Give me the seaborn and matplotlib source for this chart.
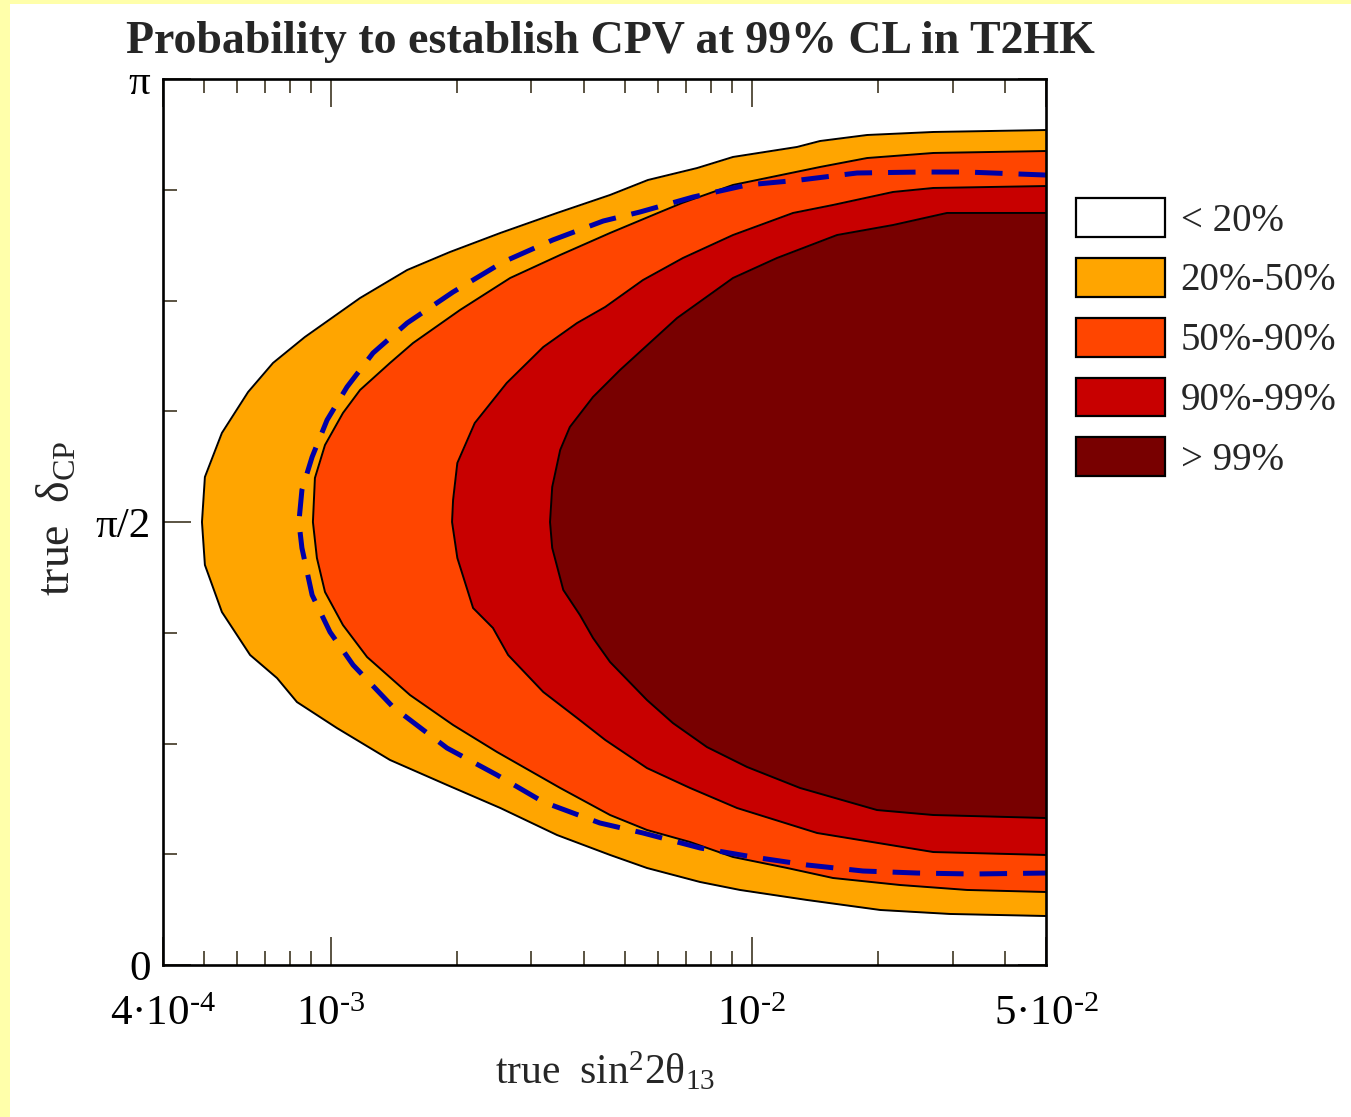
import numpy as np
import matplotlib
matplotlib.use("Agg")
import matplotlib.pyplot as plt
import seaborn as sns
from matplotlib.patches import Patch, Rectangle
from matplotlib.ticker import FixedLocator, LogLocator, NullFormatter

# ---- contour boundaries: true delta_CP (units of pi) vs true sin^2(2 theta_13) ----
# 20% probability boundary
delta_20 = [0.9424, 0.9402, 0.9368, 0.9300, 0.9233, 0.9120, 0.8995, 0.8860, 0.8691, 0.8488,
            0.8262, 0.8047, 0.7844, 0.7528, 0.7088, 0.6795, 0.6467, 0.6005, 0.5508, 0.5000,
            0.4515, 0.3984, 0.3499, 0.3239, 0.2968, 0.2675, 0.2314, 0.2032, 0.1772, 0.1467,
            0.1242, 0.1095, 0.0937, 0.0847, 0.0734, 0.0621, 0.0576, 0.0553]
s2t_20 = [5.00e-2, 2.70e-2, 1.88e-2, 1.453e-2, 1.282e-2, 9.03e-3, 7.42e-3, 5.67e-3, 4.61e-3, 3.45e-3,
          2.53e-3, 1.92e-3, 1.52e-3, 1.175e-3, 8.69e-4, 7.30e-4, 6.37e-4, 5.52e-4, 5.03e-4, 4.95e-4,
          5.03e-4, 5.52e-4, 6.44e-4, 7.46e-4, 8.32e-4, 1.035e-3, 1.384e-3, 1.89e-3, 2.53e-3, 3.45e-3,
          4.61e-3, 5.64e-3, 7.54e-3, 9.38e-3, 1.353e-2, 2.02e-2, 2.96e-2, 5.00e-2]

# 50% probability boundary
delta_50 = [0.9187, 0.9165, 0.9108, 0.9007, 0.8804, 0.8600, 0.8488, 0.8262, 0.8014, 0.7754,
            0.7393, 0.7020, 0.6795, 0.6490, 0.6230, 0.5869, 0.5497, 0.5000, 0.4594, 0.4210,
            0.3837, 0.3476, 0.3047, 0.2709, 0.2404, 0.1998, 0.1693, 0.1524, 0.1388, 0.1219,
            0.1095, 0.0982, 0.0903, 0.0847, 0.0824]
s2t_50 = [5.00e-2, 2.70e-2, 1.88e-2, 1.454e-2, 9.03e-3, 6.83e-3, 5.99e-3, 4.61e-3, 3.51e-3, 2.67e-3,
          2.03e-3, 1.57e-3, 1.384e-3, 1.175e-3, 1.070e-3, 9.70e-4, 9.18e-4, 9.08e-4, 9.28e-4, 9.70e-4,
          1.070e-3, 1.221e-3, 1.544e-3, 1.954e-3, 2.485e-3, 3.51e-3, 4.61e-3, 5.64e-3, 7.14e-3, 9.03e-3,
          1.214e-2, 1.560e-2, 2.251e-2, 3.248e-2, 5.00e-2]

# 90% probability boundary
delta_90 = [0.8792, 0.8770, 0.8725, 0.8578, 0.8488, 0.8239, 0.7980, 0.7731, 0.7427, 0.7246,
            0.6975, 0.6569, 0.6117, 0.5666, 0.5248, 0.5000, 0.4594, 0.4029, 0.3804, 0.3499,
            0.3081, 0.2788, 0.2540, 0.2223, 0.1998, 0.1772, 0.1490, 0.1275, 0.1242]
s2t_90 = [5.00e-2, 2.70e-2, 2.167e-2, 1.560e-2, 1.254e-2, 9.03e-3, 6.87e-3, 5.52e-3, 4.49e-3, 3.85e-3,
          3.20e-3, 2.62e-3, 2.20e-3, 2.00e-3, 1.954e-3, 1.943e-3, 2.00e-3, 2.18e-3, 2.43e-3, 2.64e-3,
          3.20e-3, 3.85e-3, 4.49e-3, 5.64e-3, 7.14e-3, 9.23e-3, 1.430e-2, 2.70e-2, 5.00e-2]

# 99% probability boundary
delta_99 = [0.8488, 0.8488, 0.8352, 0.8239, 0.7980, 0.7754, 0.7302, 0.6716, 0.6411, 0.6072,
            0.5813, 0.5395, 0.5000, 0.4707, 0.4233, 0.3950, 0.3691, 0.3420, 0.2991, 0.2731,
            0.2460, 0.2235, 0.1998, 0.1749, 0.1693, 0.1659]
s2t_99 = [5.00e-2, 2.91e-2, 2.167e-2, 1.595e-2, 1.149e-2, 9.03e-3, 6.65e-3, 4.87e-3, 4.20e-3, 3.70e-3,
          3.51e-3, 3.36e-3, 3.32e-3, 3.36e-3, 3.57e-3, 3.91e-3, 4.20e-3, 4.61e-3, 5.64e-3, 6.50e-3,
          7.83e-3, 9.75e-3, 1.303e-2, 1.985e-2, 2.70e-2, 5.00e-2]

# 99% CL CP-violation reach (dashed)
delta_cl = [0.8916, 0.8950, 0.8950, 0.8939, 0.8860, 0.8804, 0.8668, 0.8499, 0.8397, 0.8183,
            0.7935, 0.7596, 0.7246, 0.6907, 0.6524, 0.6151, 0.5734, 0.5361, 0.5000, 0.4707,
            0.4176, 0.3758, 0.3386, 0.2912, 0.2449, 0.2144, 0.1840, 0.1603, 0.1490, 0.1321,
            0.1219, 0.1129, 0.1061, 0.1038, 0.1027, 0.1038]
s2t_cl = [5.00e-2, 3.248e-2, 2.512e-2, 1.779e-2, 1.303e-2, 9.75e-3, 7.26e-3, 5.43e-3, 4.44e-3, 3.37e-3,
          2.57e-3, 1.954e-3, 1.52e-3, 1.261e-3, 1.094e-3, 9.81e-4, 9.04e-4, 8.55e-4, 8.41e-4, 8.55e-4,
          9.04e-4, 9.97e-4, 1.131e-3, 1.407e-3, 1.89e-3, 2.485e-3, 3.20e-3, 4.36e-3, 5.52e-3, 7.54e-3,
          1.007e-2, 1.353e-2, 1.838e-2, 2.470e-2, 3.356e-2, 5.00e-2]

legend_labels = ["< 20%", "20%-50%", "50%-90%", "90%-99%", "> 99%"]
band_colors = ["#ffffff", "#ffa500", "#ff4500", "#c80000", "#780000"]
x_ticks = [4e-4, 1e-3, 1e-2, 5e-2]
x_ticklabels = [r"$\mathregular{4·10^{‐4}}$", r"$\mathregular{10^{‐3}}$",
                r"$\mathregular{10^{‐2}}$", r"$\mathregular{5·10^{‐2}}$"]
y_ticklabels = ["0", "π/2", "π"]

X_MIN, X_MAX = 4e-4, 5e-2

sns.set_style("ticks")
plt.rcParams["font.family"] = ["Liberation Serif", "DejaVu Serif"]
plt.rcParams["mathtext.fontset"] = "custom"
plt.rcParams["mathtext.rm"] = "Liberation Serif"
plt.rcParams["mathtext.it"] = "Liberation Serif:italic"
plt.rcParams["mathtext.bf"] = "Liberation Serif:bold"

W, H = 1351, 1117
fig = plt.figure(figsize=(W / 100, H / 100), dpi=100)
fig.patch.set_facecolor("white")
# pale yellow page border
fig.patches.append(Rectangle((0, 0), 10 / W, 1, transform=fig.transFigure,
                             facecolor="#ffffaa", edgecolor="none", zorder=0))
fig.patches.append(Rectangle((0, 1 - 4 / H), 1, 4 / H, transform=fig.transFigure,
                             facecolor="#ffffaa", edgecolor="none", zorder=0))

ax = fig.add_axes([163 / W, 152 / H, 883 / W, 886 / H])
ax.set_facecolor("white")
ax.set_xscale("log")

bands = [(delta_20, s2t_20, band_colors[1]),
         (delta_50, s2t_50, band_colors[2]),
         (delta_90, s2t_90, band_colors[3]),
         (delta_99, s2t_99, band_colors[4])]
for dlt, s2t, col in bands:
    y = np.asarray(dlt) * np.pi
    ax.fill_betweenx(y, s2t, X_MAX, color=col, lw=0, zorder=1)
for dlt, s2t, col in bands:
    y = np.asarray(dlt) * np.pi
    sns.lineplot(x=s2t, y=y, sort=False, estimator=None, color="black",
                 lw=1.4, ax=ax, zorder=2)

sns.lineplot(x=s2t_cl, y=np.asarray(delta_cl) * np.pi, sort=False, estimator=None,
             color="#0000a8", lw=3.6, ax=ax, zorder=3)
ax.lines[-1].set_dashes([5.5, 3.2])
ax.lines[-1].set_dash_capstyle("butt")

ax.set_xlim(X_MIN, X_MAX)
ax.set_ylim(0, np.pi)

ax.xaxis.set_major_locator(FixedLocator(x_ticks))
ax.set_xticklabels(x_ticklabels)
ax.xaxis.set_minor_locator(LogLocator(base=10, subs=np.arange(2, 10), numticks=20))
ax.xaxis.set_minor_formatter(NullFormatter())
ax.yaxis.set_major_locator(FixedLocator([0, np.pi / 2, np.pi]))
ax.set_yticklabels(y_ticklabels)
ax.yaxis.set_minor_locator(FixedLocator([k * np.pi / 8 for k in range(9)]))

tick_col = "#2e2410"
ax.tick_params(which="both", direction="in", top=True, right=True,
               color=tick_col, width=1.1, labelsize=31, labelcolor="black")
ax.tick_params(which="major", length=20)
ax.tick_params(which="minor", length=10)
ax.tick_params(axis="x", which="major", pad=22)
ax.tick_params(axis="y", which="major", pad=9)

for sp in ax.spines.values():
    sp.set_linewidth(1.9)
    sp.set_color("black")
    sp.set_zorder(5)

ax.set_xlabel("")
ax.set_ylabel("")

fig.text(610 / W, 1 - 42 / H, "Probability to establish CPV at 99% CL in T2HK",
         ha="center", va="center", fontsize=33, fontweight="bold")
fig.text(605 / W, 1 - 1072 / H, r"$\mathregular{true\ \ sin^{2}2θ_{13}}$",
         ha="center", va="center", fontsize=30)
fig.text(58 / W, 1 - 518 / H, r"$\mathregular{true\ \ δ_{CP}}$",
         ha="center", va="center", fontsize=33, rotation=90)

handles = [Patch(facecolor=c, edgecolor="black", linewidth=1.6) for c in band_colors]
fig.legend(handles, legend_labels, loc="upper left",
           bbox_to_anchor=(1076 / W, 1 - 198 / H), bbox_transform=fig.transFigure,
           frameon=False, fontsize=28, handlelength=2.29, handleheight=1.16,
           labelspacing=0.47, handletextpad=0.4, borderpad=0, borderaxespad=0)

fig.savefig("out.png", dpi=100)
